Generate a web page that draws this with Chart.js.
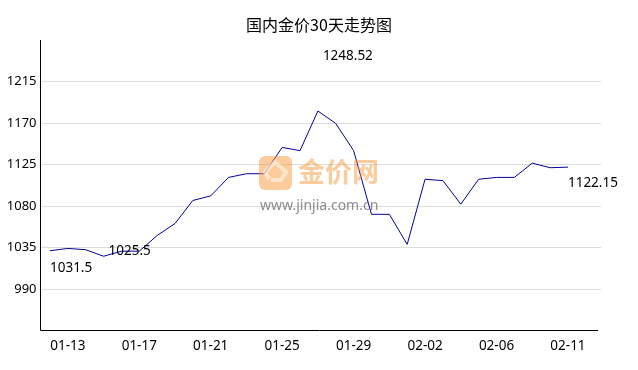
<!DOCTYPE html>
<html><head><meta charset="utf-8">
<style>html,body{margin:0;padding:0;background:#fff}#w{width:638px;height:370px;position:relative}</style>
<script src="https://cdn.jsdelivr.net/npm/chart.js@4"></script></head>
<body><div id="w"><canvas id="c" width="638" height="370"></canvas></div>
<script>
const titleText = '国内金价30天走势图';
const tickIndexes = [1,5,9,13,17,21,25,29];
const tickLabels = ['01-13','01-17','01-21','01-25','01-29','02-02','02-06','02-11'];
const yTicks = [990,1035,1080,1125,1170,1215];
const prices = [1031.5,1034,1032.6,1025.5,1031,1031,1048,1061,1086,1091,1111,1115,1115,1143.5,1140,1183,1169.5,1140,1071,1071,1038.4,1109,1107.5,1082,1109,1111,1111,1126.5,1121.5,1122.15];
const notes = [
  {x:0, y:1031.5, text:'1031.5', dx:0, dy:17},
  {x:3, y:1025.5, text:'1025.5', dx:5, dy:-5},
  {x:15, y:1248.52, text:'1248.52', dx:5, dy:6},
  {x:29, y:1122.15, text:'1122.15', dx:0, dy:16}
];
const FONT = '"Noto Sans","Noto Sans CJK SC",sans-serif';
const deco = {
  id:'deco',
  afterDatasetsDraw(ch){
    const c=ch.ctx, sx=ch.scales.x, sy=ch.scales.y;
    c.save();
    c.fillStyle='#000'; c.font='13.5px '+FONT; c.textAlign='left'; c.textBaseline='middle';
    notes.forEach(n=>c.fillText(n.text, sx.getPixelForValue(n.x)+n.dx, sy.getPixelForValue(n.y)+n.dy));
    c.globalAlpha=0.5;
    c.fillStyle='#fb9a3c';
    c.beginPath(); c.roundRect(259,156,33,34,6); c.fill();
    c.strokeStyle='#fff'; c.lineWidth=4;
    c.beginPath(); c.moveTo(269,179); c.lineTo(265,172); c.lineTo(275,162); c.lineTo(286,172); c.lineTo(281,180); c.lineTo(271,180); c.stroke();
    c.font='bold 27px "Noto Sans CJK SC"'; c.textBaseline='middle';
    c.fillText('金价网',298,172);
    c.fillStyle='#666'; c.globalAlpha=0.75; c.font='14px "Noto Sans",sans-serif';
    c.fillText('www.jinjia.com.cn',260,206);
    c.restore();
  },
  afterDraw(ch){
    const c=ch.ctx;
    c.save(); c.strokeStyle='#000'; c.lineWidth=1;
    c.beginPath(); c.moveTo(40.5,40); c.lineTo(40.5,330.5); c.lineTo(598,330.5); c.stroke();
    c.restore();
  }
};
new Chart(document.getElementById('c'),{
  type:'line',
  data:{datasets:[{data:prices.map((v,i)=>({x:i,y:v})),borderColor:'#00009a',borderWidth:1,pointRadius:0,tension:0,fill:false}]},
  options:{
    responsive:false,animation:false,
    plugins:{legend:{display:false},tooltip:{enabled:false},
      title:{display:true,text:titleText,color:'#000',font:{family:'"Noto Sans CJK SC"',size:16,weight:'normal'},padding:{top:15,bottom:5.8}}},
    scales:{
      x:{type:'linear',min:-0.53,max:30.85,
        afterBuildTicks(s){s.ticks=tickIndexes.map(v=>({value:v}));},
        afterFit(s){s.height=39.5;},
        grid:{display:false,drawTicks:false},border:{display:false},
        ticks:{autoSkip:false,maxRotation:0,padding:8,color:'#000',font:{family:FONT,size:13.5},
          callback(v){const i=tickIndexes.indexOf(v);return i<0?'':tickLabels[i];}}},
      y:{min:945,max:1260,
        afterBuildTicks(s){s.ticks=yTicks.map(v=>({value:v}));},
        afterFit(s){s.width=40.5;},
        grid:{color:'#dddddd',lineWidth:1,drawTicks:false},border:{display:false},
        ticks:{padding:4,color:'#000',font:{family:FONT,size:13},callback(v){return String(v);}}},
      gutter:{position:'right',min:0,max:1,
        afterFit(s){s.width=37;},
        grid:{display:false,drawTicks:false},border:{display:false},
        ticks:{display:false}}
    }
  },
  plugins:[deco]
});
</script></body></html>
